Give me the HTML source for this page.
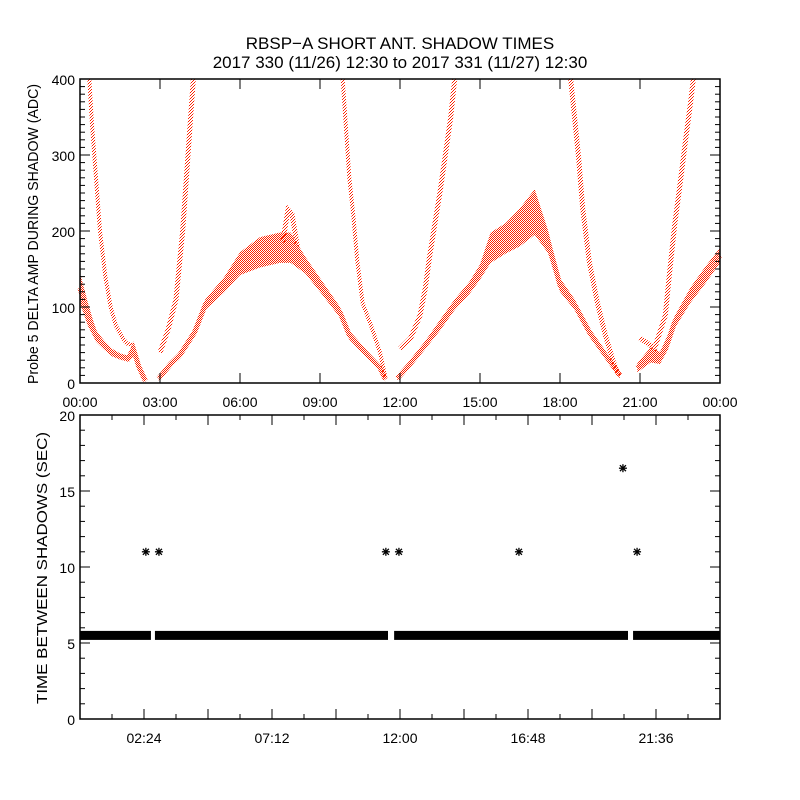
<!DOCTYPE html>
<html><head><meta charset="utf-8">
<style>
html,body{margin:0;padding:0;background:#fff;}
svg{display:block;font-family:"Liberation Sans",sans-serif;}
</style></head>
<body>
<svg id="chart" width="800" height="800" viewBox="0 0 800 800">
<defs>
<pattern id="dots" patternUnits="userSpaceOnUse" width="2" height="2">
<rect x="0" y="0" width="1" height="1" fill="#ff2200"/>
<rect x="1" y="1" width="1" height="1" fill="#ff2200"/>
</pattern>
<pattern id="sparse" patternUnits="userSpaceOnUse" width="3" height="3">
<rect x="0" y="0" width="1" height="1" fill="#ff2200"/>
<rect x="2" y="1" width="1" height="1" fill="#ff2200"/>
<rect x="1" y="2" width="1" height="1" fill="#ff2200"/>
</pattern>
</defs>
<rect width="800" height="800" fill="#fff"/>
<text x="400" y="49" font-size="17" text-anchor="middle">RBSP−A SHORT ANT. SHADOW TIMES</text>
<text x="400" y="68" font-size="17" text-anchor="middle">2017 330 (11/26) 12:30 to 2017 331 (11/27) 12:30</text>
<g id="topPanel"></g>
<g id="botPanel"></g>
</svg>
<script>
// ---- top panel data (hours, amplitude ADC, spread) ----
const s1Hours=[0,0.3,0.6,0.9,1.2,1.5,1.8,2.0,2.2,2.45];
const s1Vals=[125,90,62,50,40,35,32,45,22,3];
const s1Spread=[40,30,15,12,10,8,8,20,10,5];
const s2Hours=[0.35,0.45,0.6,0.75,0.95,1.15,1.35,1.55,1.75,1.95];
const s2Vals=[400,340,270,200,140,100,75,62,52,50];
const s3Hours=[3.0,3.3,3.6,3.85,4.05,4.25];
const s3Vals=[40,70,110,200,300,400];
const s4Hours=[2.95,3.4,3.75,4.3,4.7,5.4,6.0,6.75,7.5,7.9,8.45,9.0,9.75,10.1,10.7,11.25,11.45];
const s4Vals=[6,25,37,67,103,129,157,172,178,178,155,129,93,63,40,20,5];
const s4Spread=[6,8,10,12,14,20,30,40,40,40,22,18,14,12,10,8,6];
const s5Hours=[9.85,10.1,10.25,10.4,10.6,10.95,11.25,11.45];
const s5Vals=[400,270,220,160,105,72,40,8];
const s6Hours=[11.9,12.4,12.95,13.5,14.05,14.6,15.0,15.4,15.95,16.5,17.05,17.55,18.0,18.55,19.1,19.7,20.25];
const s6Vals=[6,26,50,76,103,125,146,178,190,205,225,186,129,103,67,37,10];
const s6Spread=[6,8,10,14,14,16,20,40,40,50,60,30,18,14,12,10,8];
const s7Hours=[12.0,12.4,12.75,12.95,13.1,13.3,13.5,13.7,13.9,14.05];
const s7Vals=[45,59,89,125,164,208,251,300,349,400];
const s8Hours=[18.4,18.7,18.85,19.1,19.4,19.7,20.0,20.2];
const s8Vals=[400,296,230,159,106,63,28,10];
const s9Hours=[20.9,21.4,21.75,22.05,22.3,22.9,23.45,24.0];
const s9Vals=[20,37,33,54,80,116,142,168];
const s9Spread=[12,20,16,20,16,20,22,20];
const s10Hours=[21.0,21.55,21.95,22.1,22.3,22.5,22.7,22.9,23.0];
const s10Vals=[59,46,89,142,208,261,317,370,400];
const s11Hours=[7.6,7.8,7.95,8.15];
const s11Vals=[185,228,222,180];
const topXTicks=["00:00","03:00","06:00","09:00","12:00","15:00","18:00","21:00","00:00"];
const topYTicks=[0,100,200,300,400];
// ---- bottom panel data ----
const bandSegStart=[0,2.81,11.78,20.74];
const bandSegEnd=[2.66,11.55,20.55,24];
const bandValue=5.5;
const starHours=[2.47,2.96,11.47,11.96,16.46,20.36,20.89];
const starVals=[11,11,11,11,11,16.5,11];
const botXTickHours=[2.4,7.2,12,16.8,21.6];
const botXTicks=["02:24","07:12","12:00","16:48","21:36"];
const botYTicks=[0,5,10,15,20];

const NS="http://www.w3.org/2000/svg";
function mk(tag,attrs,parent){const e=document.createElementNS(NS,tag);for(const k in attrs)e.setAttribute(k,attrs[k]);parent.appendChild(e);return e;}
const L=80,R=720;
const xS=h=>L+h/24*(R-L);
const tT=79,tB=383;
const yT=v=>tB-v/400*(tB-tT);
const bT=415,bB=719;
const yB=v=>bB-v/20*(bB-bT);
const topG=document.getElementById('topPanel'),botG=document.getElementById('botPanel');

function drawBand(hs,vs,sp,name){
  const up=hs.map((h,i)=>xS(h)+','+yT(Math.min(400,vs[i]+sp[i]/2)));
  const dn=hs.map((h,i)=>xS(h)+','+yT(Math.max(0,vs[i]-sp[i]/2))).reverse();
  const p=mk('polygon',{points:up.concat(dn).join(' '),fill:'url(#dots)'},topG);
  
  
  const l=mk('polyline',{points:hs.map((h,i)=>xS(h)+','+yT(vs[i])).join(' '),fill:'none',stroke:'url(#dots)','stroke-width':5},topG);
  
  
}
function drawLine(hs,vs,w,name){
  const l=mk('polyline',{points:hs.map((h,i)=>xS(h)+','+yT(vs[i])).join(' '),fill:'none',stroke:'url(#sparse)','stroke-width':w},topG);
  
  
}
drawBand(s1Hours,s1Vals,s1Spread,'series-early-lower');
drawLine(s2Hours,s2Vals,4,'series-early-steep');
drawLine(s3Hours,s3Vals,5,'series-rise-0300');
drawBand(s4Hours,s4Vals,s4Spread,'series-arch-1');
drawLine(s5Hours,s5Vals,4,'series-fall-1000');
drawBand(s6Hours,s6Vals,s6Spread,'series-arch-2');
drawLine(s7Hours,s7Vals,5,'series-rise-1200');
drawLine(s8Hours,s8Vals,5,'series-fall-1830');
drawBand(s9Hours,s9Vals,s9Spread,'series-late-lower');
drawLine(s10Hours,s10Vals,5,'series-rise-2100');
drawLine(s11Hours,s11Vals,5,'series-spike-0745');

// top axes
let f=mk('rect',{x:L,y:tT,width:R-L,height:tB-tT,fill:'none',stroke:'#000','stroke-width':1.5},topG);


topXTicks.forEach((t,i)=>{
  const x=xS(i*3);
  mk('line',{x1:x,y1:tB,x2:x,y2:tB-10,stroke:'#000'},topG);
  mk('line',{x1:x,y1:tT,x2:x,y2:tT+10,stroke:'#000'},topG);
  const tx=mk('text',{x:x,y:tB+24,'font-size':14,'text-anchor':'middle'},topG);
  tx.textContent=t;
  
  
});
for(let v=0;v<=400;v+=10){
  const y=yT(v),len=v%100===0?10:5;
  mk('line',{x1:L,y1:y,x2:L+len,y2:y,stroke:'#000'},topG);
  mk('line',{x1:R,y1:y,x2:R-len,y2:y,stroke:'#000'},topG);
}
topYTicks.forEach(v=>{
  const tx=mk('text',{x:L-5,y:yT(v)+6,'font-size':14,'text-anchor':'end'},topG);
  tx.textContent=v;
  
  
});
let yt=mk('text',{x:0,y:0,'font-size':15,'text-anchor':'middle',textLength:300,lengthAdjust:'spacingAndGlyphs',transform:'translate(38,234) rotate(-90)'},topG);
yt.textContent='Probe 5 DELTA AMP DURING SHADOW (ADC)';



// bottom panel
bandSegStart.forEach((s,i)=>{
  const r=mk('rect',{x:xS(s),y:yB(bandValue)-4.5,width:xS(bandSegEnd[i])-xS(s),height:9,fill:'#000'},botG);
  
  
});
starHours.forEach((h,i)=>{
  const x=xS(h),y=yB(starVals[i]);
  const g=mk('g',{stroke:'#000','stroke-width':1.3},botG);
  
  
  mk('line',{x1:x-4,y1:y,x2:x+4,y2:y},g);
  mk('line',{x1:x,y1:y-4,x2:x,y2:y+4},g);
  mk('line',{x1:x-3,y1:y-3,x2:x+3,y2:y+3},g);
  mk('line',{x1:x-3,y1:y+3,x2:x+3,y2:y-3},g);
});
f=mk('rect',{x:L,y:bT,width:R-L,height:bB-bT,fill:'none',stroke:'#000','stroke-width':1.5},botG);


for(let k=1;k<20;k++){
  const x=xS(k*1.2),len=k%2===0?10:5;
  mk('line',{x1:x,y1:bB,x2:x,y2:bB-len,stroke:'#000'},botG);
  mk('line',{x1:x,y1:bT,x2:x,y2:bT+len,stroke:'#000'},botG);
}
botXTicks.forEach((t,i)=>{
  const tx=mk('text',{x:xS(botXTickHours[i]),y:bB+24,'font-size':14,'text-anchor':'middle'},botG);
  tx.textContent=t;
  
  
});
for(let v=0;v<=20;v++){
  const y=yB(v),len=v%5===0?10:5;
  mk('line',{x1:L,y1:y,x2:L+len,y2:y,stroke:'#000'},botG);
  mk('line',{x1:R,y1:y,x2:R-len,y2:y,stroke:'#000'},botG);
}
botYTicks.forEach(v=>{
  const tx=mk('text',{x:L-5,y:yB(v)+6,'font-size':14,'text-anchor':'end'},botG);
  tx.textContent=v;
  
  
});
yt=mk('text',{x:0,y:0,'font-size':15,'text-anchor':'middle',textLength:272,lengthAdjust:'spacingAndGlyphs',transform:'translate(47,568) rotate(-90)'},botG);
yt.textContent='TIME BETWEEN SHADOWS (SEC)';


</script>
</body></html>
